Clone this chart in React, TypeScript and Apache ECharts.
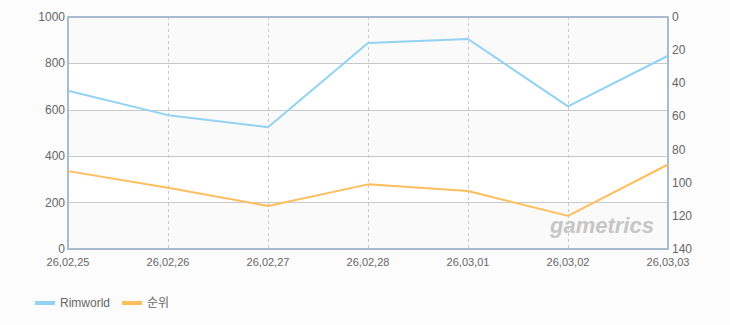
import React, { useEffect, useRef } from "react";
import * as echarts from "echarts";

const categories = ["26,02,25", "26,02,26", "26,02,27", "26,02,28", "26,03,01", "26,03,02", "26,03,03"];
const rimworld = [682, 577, 525, 888, 905, 615, 833];
const rank = [93, 103, 114, 101, 105, 120, 89];
const leftTicks = { min: 0, max: 1000, interval: 200 };
const rightTicks = { min: 0, max: 140, interval: 20 };

const FONT = "'Liberation Sans', 'Noto Sans CJK KR', sans-serif";

export default function App() {
  const ref = useRef<HTMLDivElement>(null);
  useEffect(() => {
    if (!ref.current) return;
    const chart = echarts.init(ref.current, undefined, { renderer: "svg" });
    chart.setOption({
      animation: false,
      backgroundColor: "#fcfcfc",
      textStyle: { fontFamily: FONT },
      grid: {
        left: 68,
        right: 62,
        top: 17,
        bottom: 76,
        show: true,
        borderWidth: 0,
        backgroundColor: "#ffffff",
      },
      legend: {
        left: 30,
        top: 292,
        itemWidth: 20,
        itemHeight: 4,
        itemGap: 12,
        icon: "rect",
        textStyle: { color: "#666", fontSize: 12, fontFamily: FONT },
        data: ["Rimworld", "순위"],
      },
      xAxis: {
        type: "category",
        data: categories,
        boundaryGap: false,
        axisLine: { show: true, lineStyle: { color: "#a9bccf", width: 2 } },
        axisTick: { show: false },
        axisLabel: { color: "#666", fontSize: 11, margin: 7, fontFamily: FONT, interval: 0 },
        splitLine: { show: true, lineStyle: { color: "#c8c8c8", type: [3, 3], width: 1 } },
      },
      yAxis: [
        {
          type: "value",
          min: leftTicks.min,
          max: leftTicks.max,
          interval: leftTicks.interval,
          axisLine: { show: true, lineStyle: { color: "#a9bccf", width: 2 } },
          axisTick: { show: false },
          axisLabel: { color: "#666", fontSize: 12, margin: 3, fontFamily: FONT, formatter: (v: number) => String(v) },
          splitLine: { show: true, lineStyle: { color: "#c8c8c8", width: 1 } },
          splitArea: { show: true, areaStyle: { color: ["#fafafa", "#ffffff"] } },
        },
        {
          type: "value",
          min: rightTicks.min,
          max: rightTicks.max,
          interval: rightTicks.interval,
          inverse: true,
          position: "right",
          axisLine: { show: true, lineStyle: { color: "#a9bccf", width: 2 } },
          axisTick: { show: false },
          axisLabel: { color: "#666", fontSize: 12, margin: 4, fontFamily: FONT },
          splitLine: { show: false },
        },
      ],
      graphic: [
        {
          type: "line",
          shape: { x1: 68, y1: 17, x2: 668, y2: 17 },
          style: { stroke: "#a9bccf", lineWidth: 2 },
          z: 10,
        },
        {
          type: "text",
          x: 550,
          y: 214,
          style: {
            text: "gametrics",
            fontSize: 22,
            fontStyle: "italic",
            fontWeight: "bold",
            fontFamily: "'Liberation Sans', sans-serif",
            fill: "#c6c6c6",
          },
          z: 5,
        },
      ],
      series: [
        {
          name: "Rimworld",
          type: "line",
          data: rimworld,
          yAxisIndex: 0,
          showSymbol: false,
          symbol: "none",
          itemStyle: { color: "#92d2f2" },
          lineStyle: { color: "#92d2f2", width: 2 },
          z: 3,
        },
        {
          name: "순위",
          type: "line",
          data: rank,
          yAxisIndex: 1,
          showSymbol: false,
          symbol: "none",
          itemStyle: { color: "#ffbe5c" },
          lineStyle: { color: "#ffbe5c", width: 2 },
          z: 3,
        },
      ],
    });
    return () => chart.dispose();
  }, []);
  return (
    <div
      ref={ref}
      style={{ position: "fixed", left: 0, top: 0, width: 730, height: 325 }}
    />
  );
}
